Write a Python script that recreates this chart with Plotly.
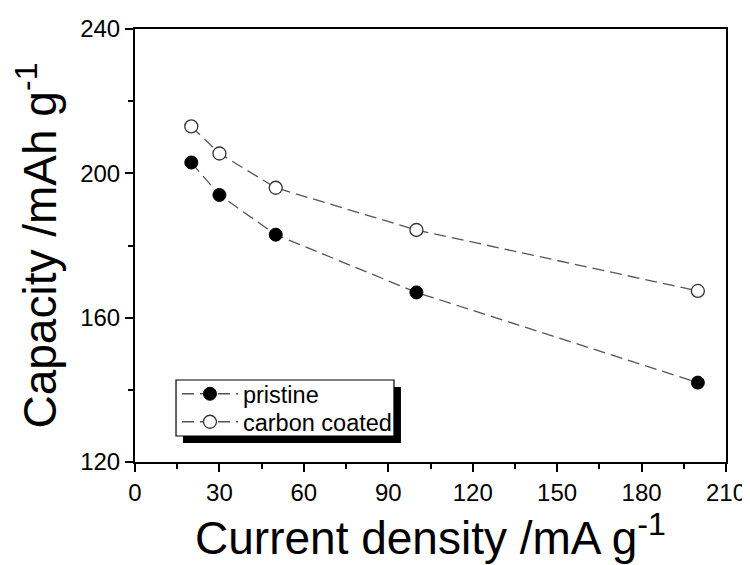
import plotly.graph_objects as go

current_density = [20, 30, 50, 100, 200]
pristine = [203, 194, 183, 167, 142]
carbon_coated = [213, 205.5, 196, 184.3, 167.4]

x_ticks = [0, 30, 60, 90, 120, 150, 180, 210]
y_ticks = [120, 160, 200, 240]

FONT = "Liberation Sans, Arial, sans-serif"

fig = go.Figure()
fig.add_trace(go.Scatter(
    x=current_density, y=pristine, name="pristine", mode="lines+markers",
    line=dict(color="#555555", width=1.3, dash="12px,6px"),
    marker=dict(symbol="circle", size=13, color="black", line=dict(color="black", width=1)),
    legend="legend", showlegend=True,
))
fig.add_trace(go.Scatter(
    x=current_density, y=carbon_coated, name="carbon coated", mode="lines+markers",
    line=dict(color="#555555", width=1.3, dash="12px,6px"),
    marker=dict(symbol="circle", size=13, color="white", line=dict(color="#333333", width=1.3)),
    legend="legend2", showlegend=True,
))

axis_common = dict(
    showgrid=False, zeroline=False, showline=True, linecolor="black", linewidth=2,
    mirror=True, ticks="outside", ticklen=8, tickwidth=2, tickcolor="black",
    tickfont=dict(size=24, color="black", family=FONT), automargin=False,
)

fig.update_xaxes(
    range=[0, 210], tickvals=x_ticks,
    minor=dict(ticks="outside", ticklen=5, tickwidth=2, tickcolor="black", dtick=15),
    title=dict(text="Current density /mA g<sup>-1</sup>", font=dict(size=46, family=FONT, color="black"), standoff=10),
    **axis_common,
)
fig.update_yaxes(
    range=[120, 240], tickvals=y_ticks,
    minor=dict(ticks="outside", ticklen=5, tickwidth=2, tickcolor="black", dtick=20),
    title=dict(text="Capacity /mAh g<sup>-1</sup>", font=dict(size=46, family=FONT, color="black"), standoff=14),
    **axis_common,
)

# legend frame with drop shadow (drawn as shapes, legends themselves transparent)
fig.add_shape(type="rect", xref="paper", yref="paper",
              x0=0.0812, x1=0.450, y0=0.044, y1=0.173,
              fillcolor="black", line=dict(width=0), layer="below")
fig.add_shape(type="rect", xref="paper", yref="paper",
              x0=0.0694, x1=0.4382, y0=0.060, y1=0.1894,
              fillcolor="white", line=dict(color="black", width=1.2), layer="below")

legend_style = dict(
    xanchor="left", yanchor="top", bgcolor="rgba(0,0,0,0)", borderwidth=0,
    font=dict(size=23.5, family=FONT, color="black"), itemwidth=56,
)

fig.update_layout(
    width=750, height=565,
    margin=dict(l=127, r=32, t=21, b=111),
    paper_bgcolor="white", plot_bgcolor="white",
    font=dict(family=FONT, color="black"),
    showlegend=True,
    legend=dict(x=0.071, y=0.2079, **legend_style),
    legend2=dict(x=0.071, y=0.1432, **legend_style),
)

fig.write_html("out.html")
